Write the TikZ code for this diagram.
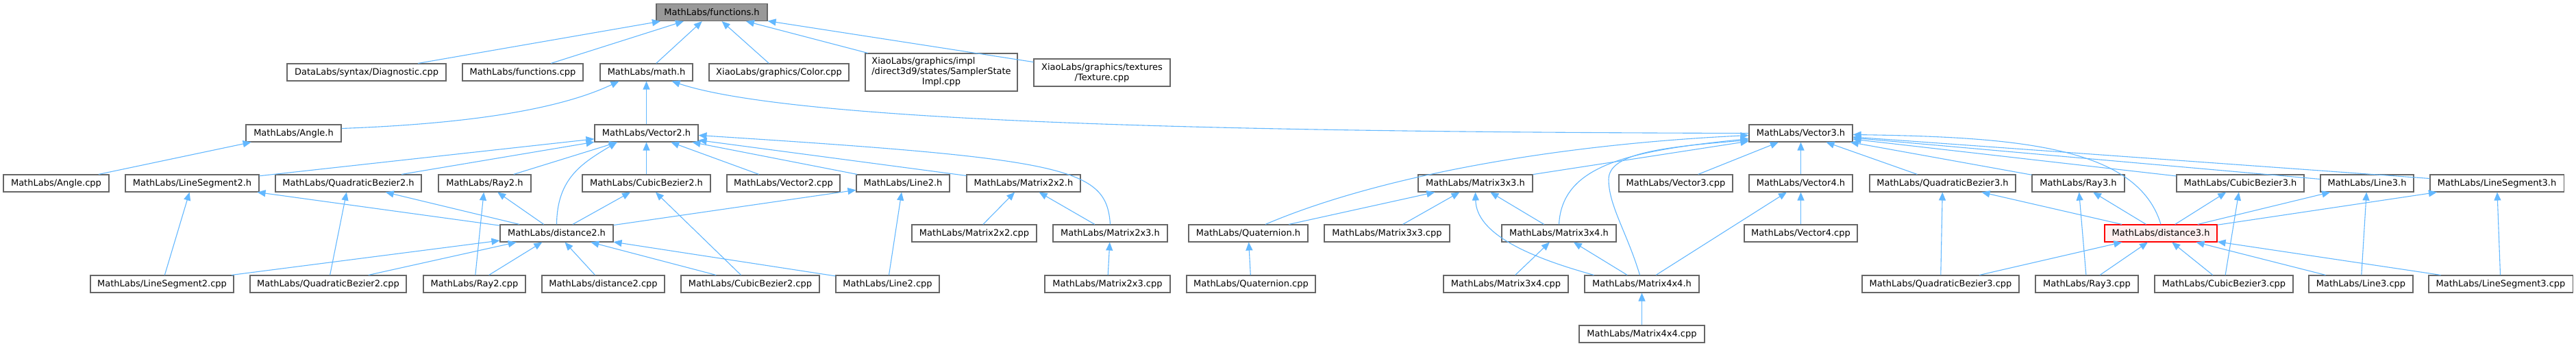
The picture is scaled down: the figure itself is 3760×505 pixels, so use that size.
\documentclass[tikz,border=0pt]{standalone}
\usepackage{fontspec}
\setmainfont{DejaVu Sans}
\usetikzlibrary{arrows.meta}
\definecolor{edgeblue}{HTML}{63B8FF}
\definecolor{nodeborder}{HTML}{666666}
\definecolor{rootfill}{HTML}{999999}
\definecolor{curfill}{HTML}{FFF0F0}

\begin{document}
\begin{tikzpicture}[x=1pt,y=-1pt,>={Triangle[length=12pt,width=10pt]},
  file/.style={draw=nodeborder,fill=white,line width=1.1pt,minimum height=25pt,
    inner sep=0pt,font=\fontsize{13pt}{15pt}\selectfont},
  rootfile/.style={file,fill=rootfill},
  curfile/.style={file,draw=red,fill=curfill},
  incl/.style={->,draw=edgeblue,line width=1.1pt}]
\fill[white] (0,0) rectangle (3760,505);
\useasboundingbox (0,0) rectangle (3760,505);
% row 0
\node[rootfile,minimum width=162pt] (fh) at (1039,18) {MathLabs/functions.h};
% row 1
\node[file,minimum width=232pt] (diag) at (535,105.5) {DataLabs/syntax/Diagnostic.cpp};
\node[file,minimum width=176pt] (fcpp) at (763,105.5) {MathLabs/functions.cpp};
\node[file,minimum width=135pt] (math) at (943.5,105.5) {MathLabs/math.h};
\node[file,minimum width=204pt] (color) at (1137,105.5) {XiaoLabs/graphics/Color.cpp};
\node[file,minimum width=222pt,minimum height=55pt] (sampler) at (1374,105.5)
  {\begin{tabular}{@{}l@{}}XiaoLabs/graphics/impl\\/direct3d9/states/SamplerState\\\multicolumn{1}{@{}c@{}}{Impl.cpp}\end{tabular}};
\node[file,minimum width=199pt,minimum height=40pt,align=center] (texture) at (1608.5,106)
  {XiaoLabs/graphics/textures\\/Texture.cpp};
% row 2
\node[file,minimum width=139pt] (angh) at (428.5,194.5) {MathLabs/Angle.h};
\node[file,minimum width=151pt] (vec2) at (943.5,194.5) {MathLabs/Vector2.h};
\node[file,minimum width=151pt] (vec3) at (2628.5,194.5) {MathLabs/Vector3.h};
% row 3
\node[file,minimum width=154pt] (angcpp) at (82,267.5) {MathLabs/Angle.cpp};
\node[file,minimum width=195pt] (ls2h) at (280.5,267.5) {MathLabs/LineSegment2.h};
\node[file,minimum width=213pt] (qb2h) at (508.5,267.5) {MathLabs/QuadraticBezier2.h};
\node[file,minimum width=135pt] (ray2h) at (707.5,267.5) {MathLabs/Ray2.h};
\node[file,minimum width=187pt] (cb2h) at (943.5,267.5) {MathLabs/CubicBezier2.h};
\node[file,minimum width=165pt] (v2cpp) at (1143.5,267.5) {MathLabs/Vector2.cpp};
\node[file,minimum width=136pt] (l2h) at (1318,267.5) {MathLabs/Line2.h};
\node[file,minimum width=166pt] (m22h) at (1494,267.5) {MathLabs/Matrix2x2.h};
\node[file,minimum width=167pt] (m33h) at (2153.5,267.5) {MathLabs/Matrix3x3.h};
\node[file,minimum width=166pt] (v3cpp) at (2446,267.5) {MathLabs/Vector3.cpp};
\node[file,minimum width=151pt] (v4h) at (2628.5,267.5) {MathLabs/Vector4.h};
\node[file,minimum width=213pt] (qb3h) at (2835.5,267.5) {MathLabs/QuadraticBezier3.h};
\node[file,minimum width=135pt] (ray3h) at (3033.5,267.5) {MathLabs/Ray3.h};
\node[file,minimum width=186pt] (cb3h) at (3270,267.5) {MathLabs/CubicBezier3.h};
\node[file,minimum width=136pt] (l3h) at (3455,267.5) {MathLabs/Line3.h};
\node[file,minimum width=195pt] (ls3h) at (3644.5,267.5) {MathLabs/LineSegment3.h};
% row 4
\node[file,minimum width=165pt] (dist2) at (812.5,340.5) {MathLabs/distance2.h};
\node[file,minimum width=182pt] (m22cpp) at (1422,340.5) {MathLabs/Matrix2x2.cpp};
\node[file,minimum width=167pt] (m23h) at (1620.5,340.5) {MathLabs/Matrix2x3.h};
\node[file,minimum width=174pt] (quat) at (1822,340.5) {MathLabs/Quaternion.h};
\node[file,minimum width=183pt] (m33cpp) at (2024.5,340.5) {MathLabs/Matrix3x3.cpp};
\node[file,minimum width=167pt] (m34h) at (2275.5,340.5) {MathLabs/Matrix3x4.h};
\node[file,minimum width=165pt] (v4cpp) at (2628.5,340.5) {MathLabs/Vector4.cpp};
\node[curfile,minimum width=164pt] (dist3) at (3154,340.5) {MathLabs/distance3.h};
% row 5
\node[file,minimum width=209pt] (ls2cpp) at (236.5,414.5) {MathLabs/LineSegment2.cpp};
\node[file,minimum width=228pt] (qb2cpp) at (479,414.5) {MathLabs/QuadraticBezier2.cpp};
\node[file,minimum width=149pt] (ray2cpp) at (692.5,414.5) {MathLabs/Ray2.cpp};
\node[file,minimum width=179pt] (d2cpp) at (880.5,414.5) {MathLabs/distance2.cpp};
\node[file,minimum width=202pt] (cb2cpp) at (1095,414.5) {MathLabs/CubicBezier2.cpp};
\node[file,minimum width=151pt] (l2cpp) at (1295.5,414.5) {MathLabs/Line2.cpp};
\node[file,minimum width=183pt] (m23cpp) at (1616.5,414.5) {MathLabs/Matrix2x3.cpp};
\node[file,minimum width=188pt] (quatcpp) at (1826,414.5) {MathLabs/Quaternion.cpp};
\node[file,minimum width=182pt] (m34cpp) at (2198,414.5) {MathLabs/Matrix3x4.cpp};
\node[file,minimum width=167pt] (m44h) at (2396.5,414.5) {MathLabs/Matrix4x4.h};
\node[file,minimum width=229pt] (qb3cpp) at (2832.5,414.5) {MathLabs/QuadraticBezier3.cpp};
\node[file,minimum width=150pt] (ray3cpp) at (3046,414.5) {MathLabs/Ray3.cpp};
\node[file,minimum width=202pt] (cb3cpp) at (3246,414.5) {MathLabs/CubicBezier3.cpp};
\node[file,minimum width=152pt] (l3cpp) at (3446,414.5) {MathLabs/Line3.cpp};
\node[file,minimum width=210pt] (ls3cpp) at (3650,414.5) {MathLabs/LineSegment3.cpp};
% row 6
\node[file,minimum width=183pt] (m44cpp) at (2396.5,487.5) {MathLabs/Matrix4x4.cpp};

% straight include edges: includer/included
\foreach \a/\b in {diag/fh,fcpp/fh,math/fh,color/fh,sampler/fh,texture/fh,
    vec2/math,angcpp/angh,
    ls2h/vec2,qb2h/vec2,ray2h/vec2,cb2h/vec2,v2cpp/vec2,l2h/vec2,m22h/vec2,
    ls2cpp/ls2h,dist2/ls2h,qb2cpp/qb2h,dist2/qb2h,ray2cpp/ray2h,dist2/ray2h,
    cb2cpp/cb2h,dist2/cb2h,l2cpp/l2h,dist2/l2h,m22cpp/m22h,m23h/m22h,m23cpp/m23h,
    ls2cpp/dist2,qb2cpp/dist2,ray2cpp/dist2,d2cpp/dist2,cb2cpp/dist2,l2cpp/dist2,
    m33h/vec3,v3cpp/vec3,v4h/vec3,qb3h/vec3,ray3h/vec3,cb3h/vec3,l3h/vec3,ls3h/vec3,
    quat/m33h,m33cpp/m33h,m34h/m33h,m34cpp/m34h,m44h/m34h,v4cpp/v4h,m44h/v4h,
    m44cpp/m44h,quatcpp/quat,
    qb3cpp/qb3h,dist3/qb3h,ray3cpp/ray3h,dist3/ray3h,cb3cpp/cb3h,dist3/cb3h,
    l3cpp/l3h,dist3/l3h,ls3cpp/ls3h,dist3/ls3h,
    qb3cpp/dist3,ray3cpp/dist3,cb3cpp/dist3,l3cpp/dist3,ls3cpp/dist3}
  \draw[incl] (\a) -- (\b);

% curved edges
\draw[incl] ([yshift=7pt]angh.east) .. controls (648,182) and (803,166) .. ([xshift=-40pt]math.south);
\draw[incl] (vec3.west) .. controls (1953,193) and (1180,185) .. ([xshift=37pt]math.south);
\draw[incl] (m23h.north) .. controls (1615,245) and (1560,232) .. ([yshift=-3pt]vec2.east);
\draw[incl] (dist2.north) .. controls (813,260) and (850,238) .. ([xshift=-43pt]vec2.south);
\draw[incl] ([xshift=25pt]quat.north) .. controls (2000,262) and (2250,212) .. ([yshift=-3pt]vec3.west);
\draw[incl] (m34h.north) .. controls (2280,240) and (2380,220) .. ([yshift=-8pt]vec3.west);
\draw[incl] ([xshift=-3pt]m44h.north) .. controls (2375,340) and (2348,300) .. (2348,262)
  .. controls (2348,225) and (2420,215) .. ([yshift=-10pt]vec3.west);
\draw[incl] (dist3.north) .. controls (3120,215) and (2950,200) .. ([yshift=-2pt]vec3.east);
\draw[incl] ([xshift=-70pt]m44h.north) .. controls (2227,374) and (2155,340) .. (m33h.south);
\end{tikzpicture}
\end{document}
